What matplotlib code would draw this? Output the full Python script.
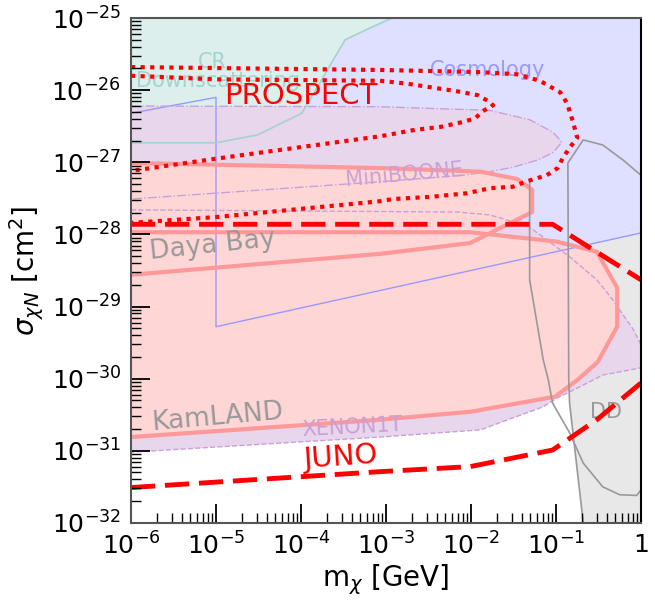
import numpy as np
import matplotlib.pyplot as plt
from matplotlib import ticker

# every boundary is given as log10(m_chi / GeV), log10(sigma / cm^2)

# Cosmology bound (region above)
cosmo_lm = [-6, -5, -5, 0]
cosmo_ls = [-26.32, -26.10, -29.28, -27.98]

# CR downscattering (region above)
cr_lm = [-6, -5, -4.51, -3.99, -3.48, -3.19, -2.95, -2.85]
cr_ls = [-26.73, -26.73, -26.62, -26.32, -25.30, -25.14, -25.01, -24.9]

# MiniBooNE
mb_lm = [-6, -3.07, -1.78, -1.31, -1.04, -0.93, -1.04, -1.22, -1.51, -1.78, -2.09, -3.07, -6]
mb_ls = [-26.22, -26.23, -26.28, -26.41, -26.58, -26.72, -26.87, -26.97, -27.07, -27.13, -27.18, -27.27, -27.51]

# XENON1T
xe_lm = [-6, -2.16, -1.78, -1.66, -1.31, -0.84, -0.52, -0.33, -0.09, 0, 0.1,
         0.1, 0, -0.45, -0.68, -0.99, -1.15, -1.89, -3.07, -6]
xe_ls = [-27.66, -27.69, -27.73, -27.77, -27.90, -28.31, -28.63, -28.91, -29.32, -29.53, -29.67,
         -29.84, -29.85, -29.95, -30.09, -30.27, -30.39, -30.71, -30.81, -31.02]

# Daya Bay
db_lm = [-6, -3.07, -1.89, -1.46, -1.28, -1.28, -2.01, -3.07, -6]
db_ls = [-27.01, -27.08, -27.13, -27.23, -27.38, -27.69, -28.12, -28.27, -28.56]

# KamLAND
kl_lm = [-6, -2.01, -0.99, -0.52, -0.28, -0.28, -0.51, -0.75, -1.01, -2.01, -3.07, -6]
kl_ls = [-27.97, -27.97, -28.10, -28.24, -28.74, -29.28, -29.77, -30.02, -30.25, -30.46, -30.57, -30.81]

# direct detection
dd_lm = [-0.66, -0.75, -0.84, -0.85, -0.86, -0.68, -0.45, -0.21, 0, 0.2]
dd_ls = [-32.2, -31.27, -30.34, -30.02, -27.01, -26.69, -26.76, -26.97, -27.18, -27.4]
dd2_lm = [-1.31, -1.31, -1.15, -1.09, -1.04, -0.84, -0.68, -0.45, -0.25, -0.05, 0]
dd2_ls = [-27.29, -28.63, -29.74, -30.02, -30.34, -30.75, -31.17, -31.50, -31.61, -31.62, -31.54]

# PROSPECT projections
pr1_lm = [-6, -3.07, -1.89, -1.46, -1.19, -0.95, -0.87, -0.80, -0.75, -0.84, -0.92, -0.98,
          -1.11, -1.22, -1.36, -1.51, -1.78, -2.05, -2.48, -2.92, -3.07, -5, -6]
pr1_ls = [-25.68, -25.72, -25.75, -25.78, -25.87, -26.03, -26.18, -26.44, -26.66, -26.80, -26.94, -27.08,
          -27.18, -27.22, -27.27, -27.34, -27.36, -27.43, -27.48, -27.51, -27.54, -27.76, -27.84]
pr2_lm = [-6, -5, -3.07, -2.75, -2.48, -2.19, -1.92, -1.80, -1.74, -1.86, -1.95, -2.09, -2.36,
          -2.66, -2.93, -3.07, -5, -6]
pr2_ls = [-25.80, -25.85, -25.87, -25.91, -25.96, -26.01, -26.07, -26.15, -26.21, -26.29, -26.39,
          -26.44, -26.51, -26.55, -26.61, -26.64, -26.95, -27.12]

# JUNO projections
juno_top_lm = [-6, -1.04, 0]
juno_top_ls = [-27.86, -27.86, -28.63]
juno_bot_lm = [-6, -3.07, -2.01, -1.04, -0.52, 0]
juno_bot_ls = [-31.51, -31.29, -31.22, -30.99, -30.57, -30.06]

x_decades = np.arange(-6, 1)
y_decades = np.arange(-32, -24)
x_ticklabels = [r'$\mathdefault{10^{-6}}$', r'$\mathdefault{10^{-5}}$', r'$\mathdefault{10^{-4}}$',
                r'$\mathdefault{10^{-3}}$', r'$\mathdefault{10^{-2}}$', r'$\mathdefault{10^{-1}}$',
                r'$\mathdefault{1}$']


def pw(a):
    return 10.0 ** np.asarray(a, dtype=float)


def minor_ticks(decades):
    return [k * 10.0 ** d for d in decades[:-1] for k in range(2, 10)]


fig = plt.figure(figsize=(6.55, 6.01), dpi=100)
ax = fig.add_axes([0.2, 0.13, 0.7786, 0.84])
ax.set_xscale('log')
ax.set_yscale('log')

# filled regions, back to front
ax.fill(pw(dd_lm + [0.2, -0.66]), pw(dd_ls + [-32.5, -32.5]), color='#e8e8e8', lw=0, zorder=1)
ax.fill(pw(cosmo_lm + [0.2, 0.2, -6.5, -6.5]), pw(cosmo_ls + [-27.98, -24.5, -24.5, -26.32]),
        color='#dfdfff', lw=0, zorder=2)
ax.fill(pw(cr_lm + [-6.5, -6.5]), pw(cr_ls + [-24.9, -26.73]), color='#dcefed', lw=0, zorder=3)
ax.fill(pw(mb_lm), pw(mb_ls), color='#e8d6ec', lw=0, zorder=4)
ax.fill(pw(xe_lm), pw(xe_ls), color='#e8d6ec', lw=0, zorder=4)
ax.fill(pw(db_lm), pw(db_ls), color='#ffd6d6', lw=0, zorder=5)
ax.fill(pw(kl_lm), pw(kl_ls), color='#ffd6d6', lw=0, zorder=5)

# outlines
ax.plot(pw(cosmo_lm), pw(cosmo_ls), color='#9999ff', lw=1.0, zorder=6)
ax.plot(pw(cr_lm), pw(cr_ls), color='#a3d3cf', lw=1.2, zorder=6)
ax.plot(pw(mb_lm), pw(mb_ls), color='#c9a0d8', lw=1.0, ls='-.', zorder=6)
ax.plot(pw(xe_lm), pw(xe_ls), color='#c9a0d8', lw=1.0, ls='--', zorder=6)
ax.plot(pw(db_lm), pw(db_ls), color='#ff9999', lw=3.0, zorder=6)
ax.plot(pw(kl_lm), pw(kl_ls), color='#ff9999', lw=3.0, zorder=6)
ax.plot(pw(dd_lm), pw(dd_ls), color='#999999', lw=1.2, zorder=7)
ax.plot(pw(dd2_lm), pw(dd2_ls), color='#999999', lw=1.2, zorder=7)

# projections
ax.plot(pw(pr1_lm), pw(pr1_ls), color='red', lw=3.0, ls=(0, (1, 1.3)), zorder=8)
ax.plot(pw(pr2_lm), pw(pr2_ls), color='red', lw=3.0, ls=(0, (1, 1.3)), zorder=8)
ax.plot(pw(juno_top_lm), pw(juno_top_ls), color='red', lw=3.5, ls=(0, (5, 2)), zorder=8)
ax.plot(pw(juno_bot_lm), pw(juno_bot_ls), color='red', lw=3.5, ls=(0, (5, 2)), zorder=8)

# labels
ax.text(9.1e-6, 2.45e-26, 'CR', color='#a3d3cf', fontsize=15, ha='center', va='center', zorder=7)
ax.text(1.05e-5, 1.34e-26, 'Downscattering', color='#a3d3cf', fontsize=15,
        ha='center', va='center', zorder=7)
ax.text(1.0e-4, 8.3e-27, 'PROSPECT', color='red', fontsize=21, ha='center', va='center', zorder=9)
ax.text(1.55e-2, 1.9e-26, 'Cosmology', color='#9999ff', fontsize=15,
        ha='center', va='center', zorder=7)
ax.text(1.66e-3, 6.6e-28, 'MiniBOONE', color='#c9a0d8', fontsize=15, rotation=5,
        ha='center', va='center', zorder=7)
ax.text(9.1e-6, 7.1e-29, 'Daya Bay', color='#999999', fontsize=19, rotation=6,
        ha='center', va='center', zorder=7)
ax.text(1.03e-5, 2.95e-31, 'KamLAND', color='#999999', fontsize=19, rotation=5,
        ha='center', va='center', zorder=7)
ax.text(4.0e-4, 2.1e-31, 'XENON1T', color='#c9a0d8', fontsize=15, rotation=3,
        ha='center', va='center', zorder=7)
ax.text(2.9e-4, 8.1e-32, 'JUNO', color='red', fontsize=21, rotation=4,
        ha='center', va='center', zorder=9)
ax.text(0.39, 3.5e-31, 'DD', color='#999999', fontsize=15, ha='center', va='center', zorder=7)

ax.set_xlim(1e-6, 1)
ax.set_ylim(1e-32, 1e-25)

ax.xaxis.set_major_locator(ticker.FixedLocator(pw(x_decades)))
ax.xaxis.set_major_formatter(ticker.FixedFormatter(x_ticklabels))
ax.xaxis.set_minor_locator(ticker.FixedLocator(minor_ticks(x_decades)))
ax.yaxis.set_major_locator(ticker.FixedLocator(pw(y_decades)))
ax.yaxis.set_major_formatter(ticker.LogFormatterSciNotation())
ax.yaxis.set_minor_locator(ticker.FixedLocator(minor_ticks(y_decades)))
ax.xaxis.set_minor_formatter(ticker.NullFormatter())
ax.yaxis.set_minor_formatter(ticker.NullFormatter())

# ticks and frame drawn over the shaded regions
ax.xaxis.set_zorder(20)
ax.yaxis.set_zorder(20)
ax.tick_params(which='both', direction='in', top=False, right=False, labelsize=18)
ax.tick_params(which='major', length=14, width=1.3, pad=7)
ax.tick_params(which='minor', length=7, width=1.0)
for s in ['left', 'bottom', 'top']:
    ax.spines[s].set_color('#555555')
    ax.spines[s].set_linewidth(1.5)
ax.spines['right'].set_color('black')
ax.spines['right'].set_linewidth(1.5)
for s in ax.spines.values():
    s.set_zorder(21)

ax.set_xlabel(r'm$_\chi$ [GeV]', fontsize=20, labelpad=2)
ax.set_ylabel(r'$\sigma_{\chi N}$ [cm$^2$]', fontsize=20)

plt.savefig('out.png', dpi=100)
